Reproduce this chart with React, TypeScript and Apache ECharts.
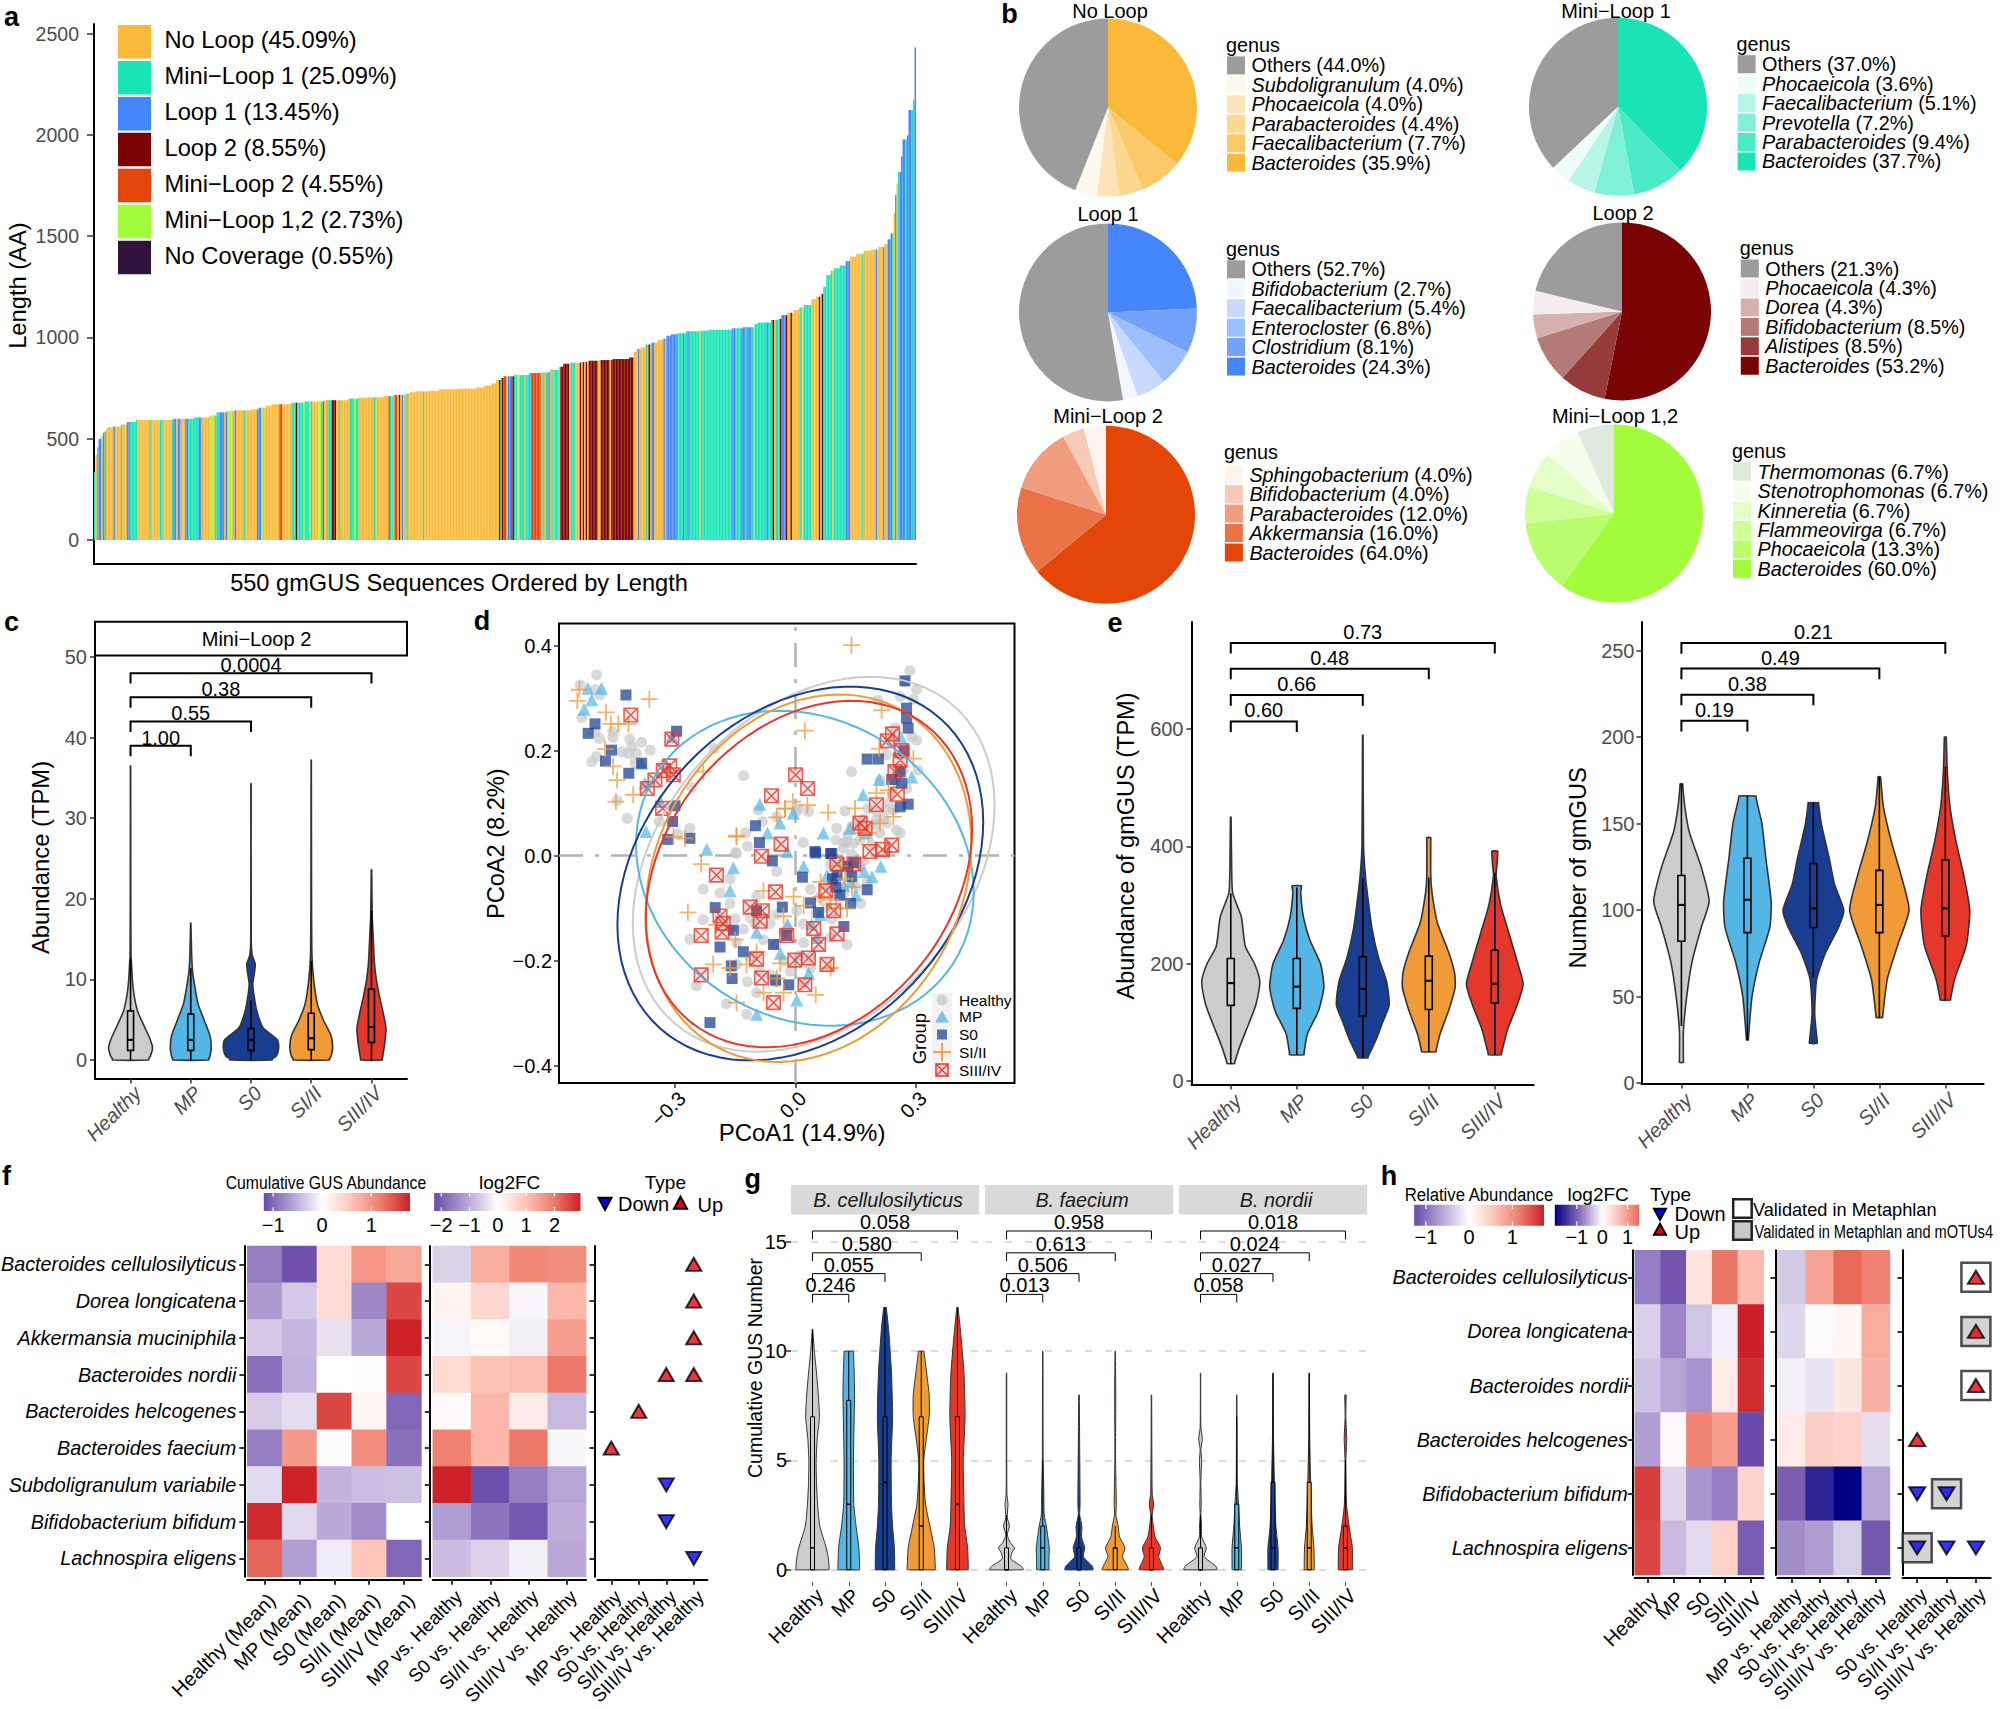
import React, { useEffect, useRef } from "react";
import * as echarts from "echarts";

const FONT = "Liberation Sans";
const MINUS = "\u2212";
const GROUPS = ["Healthy", "MP", "S0", "SI/II", "SIII/IV"];
const GROUP_COLORS = ["#CCCCCB", "#54B6E6", "#193D91", "#F19A38", "#E6382A"];

/* ---------- panel a ---------- */
const loopNames = ["No Loop (45.09%)", `Mini${MINUS}Loop 1 (25.09%)`, "Loop 1 (13.45%)", "Loop 2 (8.55%)", `Mini${MINUS}Loop 2 (4.55%)`, `Mini${MINUS}Loop 1,2 (2.73%)`, "No Coverage (0.55%)"];
const loopColors = ["#FABA39", "#1AE4B6", "#4686FB", "#7A0403", "#E4460A", "#A2FC3C", "#30123B"];
// [bar count, length in AA], read left to right
const seqLengthRuns = [[1,335],[1,420],[1,457],[2,500],[1,513],[1,530],[1,535],[1,550],[4,557],[5,560],[4,570],[6,582],[25,592],[14,598],[10,605],[5,615],[7,630],[5,637],[11,640],[5,645],[5,653],[4,663],[13,670],[9,678],[13,684],[16,690],[7,698],[6,702],
[11,704],[7,711],[7,716],[3,722],[4,729],[9,734],[7,737],[12,744],[13,747],[5,753],[5,762],[3,773],[3,790],[2,800],[7,808],[10,814],[9,824],[5,828],[6,840],[3,855],[5,870],[7,875],[5,878],[7,885],[9,888],[11,893],[3,901],[2,929],[3,943],
[3,951],[4,965],[4,974],[4,987],[2,995],[3,1008],[4,1015],[6,1020],[9,1030],[6,1033],[16,1038],[7,1045],[8,1050],[2,1066],[9,1073],[5,1086],[2,1092],[4,1110],[4,1122],[4,1135],[3,1148],[5,1160],[3,1188],[3,1201],[2,1215],[2,1250],[3,1308],[2,1329],[4,1341],[4,1355],[3,1377],[4,1398],[5,1413],[5,1428],[5,1434],[4,1446],[2,1461],[2,1485],[2,1513],[1,1615],[1,1703],[1,1760],[2,1816],[1,1892],[3,1977],[1,1997],[3,2122],[1,2171],[1,2431]];
// [bar count, loop class], read left to right
const seqClassRuns = [[1,1],[1,0],[1,1],[2,2],[1,0],[1,2],[1,1],[5,0],[1,2],[4,0],[1,1],[3,0],[2,2],[5,1],[8,0],[1,1],[6,0],[2,1],[6,0],[1,1],[2,2],[1,0],[2,2],[3,0],[2,2],[7,1],[2,2],[6,0],[2,5],[1,0],[3,1],[3,2],[1,0],[1,2],[1,0],[2,5],[2,0],[1,2],[5,0],[1,1],[8,0],[3,2],[1,5],[11,0],[2,4],[6,0],[3,1],[1,3],[4,1],[1,5],[3,1],[1,5],[1,1],[4,0],[2,5],[1,1],[1,4],[2,0],[3,1],[3,3],[2,0],[1,1],[6,0],[3,1],[1,5],[2,1],[6,0],
[4,0],[1,1],[9,0],[1,4],[2,1],[1,0],[2,4],[1,0],[1,3],[1,0],[1,2],[2,0],[1,1],[10,0],[1,1],[50,0],[1,3],[1,1],[1,3],[2,4],[1,0],[2,2],[1,4],[1,3],[2,1],[1,5],[1,0],[3,1],[1,0],[3,1],[1,2],[6,4],[1,0],[1,1],[1,0],[2,1],[1,2],[1,0],[1,1],[1,0],[3,1],[1,0],[6,3],[1,0],[3,1],[3,0],[1,3],[1,0],[1,3],[1,0],[1,3],[1,0],[6,3],[2,0],[6,3],[1,0],[15,3],[3,0],[1,2],[1,0],
[3,0],[1,1],[1,0],[1,3],[1,0],[2,2],[6,0],[1,2],[1,0],[7,2],[4,1],[1,2],[2,1],[1,2],[7,1],[1,0],[21,1],[2,2],[4,1],[3,2],[1,1],[3,2],[1,1],[1,0],[8,1],[1,2],[3,1],[1,3],[1,0],[3,1],[1,3],[3,2],[1,3],[2,0],[1,3],[5,0],[1,1],[2,0],[5,1],[5,0],[1,3],[1,0],[1,6],[2,1],[4,1],[1,0],[8,1],[3,2],[8,0],[1,1],[8,0],[1,2],[4,0],[1,2],[2,0],[3,2],[1,1],[1,0],[1,2],[1,0],[1,1],[4,2],[1,1],[3,2],[1,1],[1,1],[1,2]];

const expandRuns = (runs: number[][]) => runs.flatMap(([n, v]) => Array(n).fill(v));
const seqLengths = expandRuns(seqLengthRuns);
const seqClasses = expandRuns(seqClassRuns);

/* ---------- panel b ---------- */
const pieTitles = ["No Loop", `Mini${MINUS}Loop 1`, "Loop 1", "Loop 2", `Mini${MINUS}Loop 2`, `Mini${MINUS}Loop 1,2`];
const pieNames = [
  ["Others", "Subdoligranulum", "Phocaeicola", "Parabacteroides", "Faecalibacterium", "Bacteroides"],
  ["Others", "Phocaeicola", "Faecalibacterium", "Prevotella", "Parabacteroides", "Bacteroides"],
  ["Others", "Bifidobacterium", "Faecalibacterium", "Enterocloster", "Clostridium", "Bacteroides"],
  ["Others", "Phocaeicola", "Dorea", "Bifidobacterium", "Alistipes", "Bacteroides"],
  ["Sphingobacterium", "Bifidobacterium", "Parabacteroides", "Akkermansia", "Bacteroides"],
  ["Thermomonas", "Stenotrophomonas", "Kinneretia", "Flammeovirga", "Phocaeicola", "Bacteroides"],
];
const pieValues = [
  [44.0, 4.0, 4.0, 4.4, 7.7, 35.9],
  [37.0, 3.6, 5.1, 7.2, 9.4, 37.7],
  [52.7, 2.7, 5.4, 6.8, 8.1, 24.3],
  [21.3, 4.3, 4.3, 8.5, 8.5, 53.2],
  [4.0, 4.0, 12.0, 16.0, 64.0],
  [6.7, 6.7, 6.7, 6.7, 13.3, 60.0],
];
const pieColors = [
  ["#9C9C9C", "#FFF8EE", "#FDE3B8", "#FCD78F", "#FBC96A", "#FABA39"],
  ["#9C9C9C", "#EEFDFA", "#B6F6E6", "#80F1D6", "#4BEBC6", "#1AE4B6"],
  ["#9C9C9C", "#F1F6FF", "#C7DAFE", "#9DBFFD", "#72A2FC", "#4686FB"],
  ["#9C9C9C", "#F4EDED", "#D4B0AF", "#B37A78", "#953B3A", "#7A0403"],
  ["#FEF4EF", "#F7CAB8", "#F09E7E", "#EA7247", "#E4460A"],
  ["#E0E9E0", "#F6FFEE", "#E3FEC6", "#CEFE98", "#B9FD6E", "#A2FC3C"],
];

/* ---------- panel c ---------- */
const cViolins = [
  [[0,.30],[.5,.33],[1.5,.365],[2.5,.33],[4,.24],[6,.12],[8,.06],[10,.03],[12,.015],[13,.008],[20,.004],[36.5,.002]],
  [[0,.30],[.5,.32],[1.5,.34],[3,.32],[5,.22],[7,.12],[9,.07],[11,.03],[13,.015],[17,.003]],
  [[0,.35],[.5,.42],[1.5,.46],[2.5,.44],[4,.2],[6,.10],[8,.05],[9.5,.03],[10.5,.05],[11.9,.07],[13,.02],[15,.004],[34.3,.002]],
  [[0,.30],[.5,.33],[1.5,.355],[3,.33],[5,.2],[7,.1],[10,.04],[13,.012],[20,.005],[37.2,.002]],
  [[0,.18],[2,.22],[4,.24],[6,.19],[8,.13],[10,.08],[12,.05],[15,.03],[18,.012],[23.6,.004]],
];
const cBoxes = [[1.2,2.5,6.1,0,12.5],[1.2,2.5,5.7,0,11.4],[1.2,2.5,3.9,0,7.4],[1.3,2.7,5.8,0,12.3],[2.2,4.1,8.8,0,18.5]];
const cBrackets = [[0,1,39,"1.00"],[0,2,42,"0.55"],[0,3,45,"0.38"],[0,4,48,"0.0004"]];

/* ---------- panel d ---------- */
const pcoaHealthy = [[-.536,.325],[-.495,.344],[-.499,.316],[-.487,.306],[-.532,.263],[-.499,.236],[-.488,.223],[-.455,.236],[-.454,.225],[-.412,.222],[-.383,.216],[-.362,.201],[-.408,.208],[-.433,.198],[-.416,.194],[-.396,.195],[-.507,.179],[-.495,.189],[-.4,.177],[-.203,.204],[-.329,.173],[-.259,.13],[-.129,.152],[-.444,.105],[-.419,.071],[-.339,.065],[-.263,.052],[-.292,.041],[-.124,.044],[-.12,.018],[-.149,.006],[-.093,.087],[-.082,.065],[.002,.084],[-.047,.074],
[.284,.352],[.272,.331],[.301,.317],[.26,.303],[.293,.298],[.204,.296],[.247,.243],[.301,.22],[.289,.227],[.226,.192],[.139,.16],[.305,.163],[.268,.163],[.276,.128],[.21,.144],[.123,.085],[.032,.084],[.007,.09],[.102,.052],[.139,.055],[.019,.025],[.201,.084],[.226,.087],[.243,.087],[.201,.068],[.226,.062],[.21,.043],[.251,.049],[.26,.043],[.127,.027],[.119,.014],[.143,.023],[.226,.004],
[.12,.024],[.087,-.016],[.137,-.03],[.17,-.01],[.103,-.037],[.178,-.05],[.162,-.091],[.12,-.071],[.037,-.064],[.003,-.105],[.078,-.098],[-.047,-.112],[-.097,-.078],[-.047,-.03],[-.147,.004],[-.163,-.044],[-.23,-.064],[-.188,-.071],[-.163,-.091],[-.23,-.122],[-.263,-.159],[-.163,-.139],[-.113,-.118],[-.063,-.129],[-.03,-.146],[-.147,-.166],[-.113,-.193],[.02,-.166],[.128,-.169],[.087,-.156],[.037,-.193],[-.063,-.227],[-.013,-.22],[.037,-.214],[-.247,-.248],[-.172,-.282],[-.122,-.302],[-.097,-.261],[-.147,-.207],[.02,-.241],[-.047,-.241],
[.1,.03],[.13,.04],[.15,.06],[.16,.03],[.18,.05],[.19,.02],[.14,.002],[.11,-.01],[.16,-.02],[.13,-.02],[.1,-.05],[.15,-.06],[.08,-.06],[.06,-.08],[.11,-.08],[.05,-.11],[.09,-.12],[.02,-.13],[-.02,-.14],[-.05,-.17],[-.08,-.16],[-.1,-.13],[-.13,-.14],[-.15,-.12],[-.03,-.2],[.01,-.19],[-.09,-.22],[-.12,-.24],[.23,.1],[.24,.12],[.25,.14],[.22,.07],[.2,.06],[.18,.09],[.17,.07]];
const pcoaMP = [[-.517,.319],[-.483,.319],[-.507,.297],[-.526,.279],[-.383,.176],[-.375,.138],[-.337,.103],[-.372,.046],[-.221,.012],[-.089,.098],[-.07,.043],[-.039,.062],[-.006,.081],[-.021,.008],[-.308,.227],[.261,.227],[.208,.145],[.168,.116],[.289,.15],[.069,.043],[.135,.052],[.177,.043],[.02,-.02],[-.155,-.023],[-.163,-.067],[.212,-.02],[.17,-.03],[-.097,-.146],[.053,-.156],[-.038,-.186],[.033,-.224],[.003,-.275],[-.097,-.302],[.062,-.112],[.137,-.05],[.078,-.037],[.12,-.057],[.19,-.04],[.15,-.075],[.04,-.13],[-.02,-.13]];
const pcoaS0 = [[-.422,.306],[-.499,.251],[-.516,.233],[-.458,.201],[-.473,.18],[-.415,.157],[-.383,.176],[-.296,.237],[-.3,.095],[-.306,.065],[-.318,.031],[-.263,.033],[-.1,.057],[-.09,.025],[-.058,-.01],[.272,.333],[.276,.281],[.276,.262],[.28,.243],[.178,.184],[.206,.184],[.239,.145],[.264,.138],[.28,.098],[.26,.093],[.048,.008],[.09,.004],[.05,.005],[.087,.004],[.017,-.041],[.092,-.044],[.145,-.013],[.178,-.065],[.037,-.09],[.057,-.108],[.137,-.091],[-.2,-.099],[-.097,-.105],[-.033,-.098],[-.155,-.142],[-.022,-.152],[-.055,-.169],[-.188,-.174],[-.13,-.183],[-.16,-.21],[-.158,-.234],[-.05,-.237],[-.017,-.246],[-.213,-.318],[.12,-.135],[.103,-.037],[.13,-.02],[.14,-.04],[.1,-.06],[.11,-.075],[.27,.2],[.26,.16]];
const pcoaSI = [[-.538,.316],[-.543,.295],[-.472,.273],[-.46,.251],[-.441,.251],[-.416,.251],[-.364,.298],[-.474,.203],[-.454,.17],[-.444,.144],[-.404,.116],[-.447,.103],[-.23,.16],[-.304,.036],[-.275,.033],[-.147,.036],[-.027,.089],[-.047,.073],[.139,.401],[.023,.238],[.214,.277],[.208,.204],[.293,.185],[.201,.119],[.231,.125],[.148,.09],[.081,.082],[.029,.096],[-.007,.103],[-.026,.09],[.243,.074],[.181,.043],[.16,.043],[.21,.062],[-.235,-.016],[-.268,-.108],[-.147,.038],[.062,-.05],[.123,-.044],[.062,-.078],[-.08,-.067],[-.005,-.078],[.128,-.101],[.087,-.084],[.02,-.095],[-.197,-.132],[-.097,-.183],[-.205,-.207],[-.163,-.214],[-.122,-.207],[-.038,-.205],[-.147,-.28],[-.08,-.261],[-.03,-.261],[.05,-.265],[.087,-.214],[-.047,-.234],[.11,-.02],[.14,-.06],[.1,-.1],[-.03,-.115],[-.15,-.16]];
const pcoaSIII = [[-.41,.268],[-.308,.222],[-.313,.171],[-.329,.162],[-.304,.154],[-.35,.144],[-.369,.128],[-.331,.09],[-.06,.114],[-.036,.022],[-.085,-.001],[0,.154],[.241,.232],[.228,.219],[.264,.2],[.26,.182],[.247,.16],[.03,.128],[.253,.117],[.201,.097],[.16,.062],[.173,.052],[.239,.02],[.216,.012],[.185,.008],[-.197,-.037],[-.05,-.069],[.075,-.067],[.145,-.016],[.103,-.016],[.095,-.105],[-.188,-.115],[-.113,-.098],[-.083,-.105],[-.18,-.129],[-.183,-.146],[-.235,-.152],[-.088,-.125],[-.022,-.152],[.045,-.139],[.103,-.149],[.057,-.169],[-.002,-.199],[.032,-.195],[.078,-.207],[-.097,-.197],[-.235,-.227],[-.085,-.233],[.023,-.246],[-.055,-.28]];
// centre x, centre y, half width, half height, tilt
const pcoaEllipses = [[.045,-.0163,.45,.357,.315],[.023,-.024,.42,.30,-.15],[.0117,-.034,.455,.356,.275],[.032,-.043,.405,.35,.19],[.033,-.035,.406,.33,.26]];

/* ---------- panel e ---------- */
const eAbundViolins = [
  [[30,.06],[60,.14],[100,.28],[130,.38],[170,.44],[200,.36],[230,.22],[280,.16],[320,.03],[350,.015],[450,.005]],
  [[45,.11],[80,.16],[120,.33],[160,.41],[200,.36],[240,.2],[280,.1],[320,.06],[333,.07]],
  [[40,.08],[70,.2],[100,.3],[130,.40],[170,.36],[210,.24],[260,.14],[310,.08],[350,.04],[400,.012],[590,.004]],
  [[50,.11],[80,.17],[120,.3],[160,.40],[185,.39],[220,.3],[270,.13],[320,.05],[350,.03],[415,.03]],
  [[45,.1],[65,.14],[90,.2],[130,.34],[165,.43],[200,.35],[250,.22],[300,.09],[350,.02],[370,.035],[392,.045]],
];
const eAbundBoxes = [[129,167,209,30,320],[124,161,209,45,330],[111,157,212,40,345],[122,171,213,50,347],[133,166,223,45,355]];
const eAbundBrackets = [[0,1,613,"0.60"],[0,2,658,"0.66"],[0,3,703,"0.48"],[0,4,747,"0.73"]];
const eNumberViolins = [
  [[12,.03],[30,.03],[50,.08],[70,.16],[90,.30],[105,.42],[125,.3],[145,.12],[160,.05],[173,.02]],
  [[25,.015],[50,.07],[70,.18],[90,.34],[105,.36],[130,.28],[150,.22],[160,.16],[166,.13]],
  [[23,.06],[40,.02],[60,.05],[75,.18],[90,.38],[100,.46],[115,.32],[130,.24],[150,.12],[162,.08]],
  [[38,.05],[60,.12],[80,.28],[100,.45],[120,.33],[140,.18],[160,.06],[177,.02]],
  [[48,.08],[60,.14],[80,.32],[100,.37],[120,.28],[140,.16],[160,.07],[180,.03],[200,.015]],
];
const eNumberBoxes = [[82,103,120,33,173],[87,106,130,25,166],[90,101,127,61,162],[87,103,123,38,177],[85,101,129,48,183]];
const eNumberBrackets = [[0,1,209.5,"0.19"],[0,2,224.6,"0.38"],[0,3,239.7,"0.49"],[0,4,254.5,"0.21"]];

/* ---------- panel f ---------- */
const fSpecies = ["Bacteroides cellulosilyticus","Dorea longicatena","Akkermansia muciniphila","Bacteroides nordii","Bacteroides helcogenes","Bacteroides faecium","Subdoligranulum variabile","Bifidobacterium bifidum","Lachnospira eligens"];
const fMeanCols = ["Healthy (Mean)","MP (Mean)","S0 (Mean)","SI/II (Mean)","SIII/IV (Mean)"];
const vsCols = ["MP vs. Healthy","S0 vs. Healthy","SI/II vs. Healthy","SIII/IV vs. Healthy"];
const fMeans = [
  [-.85,-1.15,.35,1.0,.85],[-.65,-.35,.35,-.78,1.55],[-.35,-.48,-.2,-.55,1.78],[-.95,-.5,0,.03,1.55],[-.33,-.22,1.55,.08,-1],
  [-.85,.95,-.02,1.05,-.95],[-.23,1.78,-.5,-.42,-.4],[1.72,-.24,-.55,-.75,0],[1.35,-.63,-.12,.6,-1],
];
const fLog2 = [
  [-.55,1.3,1.8,1.7],[.2,.65,-.1,1.15],[-.12,.1,-.2,1.5],[.6,1.0,1.05,2.0],[.08,1.15,.35,-.85],
  [1.9,1.15,2.0,-.1],[2.9,-2.2,-1.6,-1.1],[-1.2,-1.7,-2.1,-1],[-.8,-.55,-.2,-1.05],
];
// [column, row, 1 = up / 0 = down]
const fMarks = [[3,0,1],[3,1,1],[3,2,1],[2,3,1],[3,3,1],[1,4,1],[0,5,1],[2,6,0],[2,7,0],[3,8,0]];

/* ---------- panel g ---------- */
const gTitles = ["B. cellulosilyticus","B. faecium","B. nordii"];
const gViolins = [
  [
    [[0,.46],[.5,.44],[1,.38],[2,.2],[3,.14],[4,.11],[5,.1],[6,.13],[7,.19],[8,.16],[9,.11],[10,.05],[11,.01]],
    [[0,.30],[1,.28],[2,.2],[3,.14],[5,.13],[7,.15],[8,.16],[9,.15],[10,.13]],
    [[0,.27],[1,.26],[2,.21],[3,.18],[5,.17],[7,.21],[9,.18],[11,.1],[12,.04]],
    [[0,.39],[1,.36],[2,.24],[3,.12],[4,.08],[5,.07],[6,.14],[7,.22],[8,.22],[9,.15],[10,.08]],
    [[0,.30],[1,.28],[2,.2],[3,.18],[5,.16],[7,.21],[9,.18],[11,.08],[12,.02]],
  ],
  [
    [[0,.46],[.15,.42],[.5,.12],[.75,.14],[1,.22],[1.25,.1],[1.6,.02],[2,.08],[2.4,.02],[3,.04],[3.5,.01],[9,.006]],
    [[0,.17],[.5,.17],[1,.18],[1.5,.14],[2,.1],[2.5,.04],[3.5,.03],[5,.012],[10,.006]],
    [[0,.39],[.2,.35],[.6,.12],[1,.16],[1.5,.07],[2,.08],[2.5,.02],[3,.03],[8,.008]],
    [[0,.36],[.2,.32],[.6,.2],[1,.27],[1.5,.12],[2,.08],[2.5,.02],[3,.03],[5,.01],[8,.015],[10,.006]],
    [[0,.34],[.2,.3],[.6,.2],[1,.25],[1.5,.1],[2,.05],[2.5,.02],[3,.06],[3.5,.02],[8,.006]],
  ],
  [
    [[0,.46],[.2,.4],[.6,.1],[1,.16],[1.5,.03],[2,.03],[2.5,.01],[3,.02],[4,.01],[5,.03],[5.5,.01],[6,.05],[6.5,.01],[9,.005]],
    [[0,.13],[1,.13],[2,.08],[3,.05],[4,.015],[8,.005]],
    [[0,.14],[1,.14],[2,.08],[4,.04],[6,.015],[9,.005]],
    [[0,.14],[1,.13],[2,.08],[4,.04],[6,.015],[9,.006]],
    [[0,.2],[1,.19],[2,.1],[3,.03],[5,.012],[6,.035],[7,.01],[8,.02]],
  ],
];
const gBoxes = [
  [[0,1,7,0,11],[0,3,7.75,0,10],[0,4,7,0,12],[0,2,7,0,10],[0,3,7,0,12]],
  [[0,0,1,0,2.5],[0,1,2,0,5],[0,0,1,0,2.5],[0,1,1,0,2],[0,0,1,0,2.5]],
  [[0,0,1,0,2.5],[0,1,3,0,7],[0,1,4,0,9],[0,1,4,0,9],[0,1,2,0,5]],
];
const gBrackets = [
  [[0,1,12.6,"0.246"],[0,2,13.55,"0.055"],[0,3,14.5,"0.580"],[0,4,15.5,"0.058"]],
  [[0,1,12.6,"0.013"],[0,2,13.55,"0.506"],[0,3,14.5,"0.613"],[0,4,15.5,"0.958"]],
  [[0,1,12.6,"0.058"],[0,2,13.55,"0.027"],[0,3,14.5,"0.024"],[0,4,15.5,"0.018"]],
];

/* ---------- panel h ---------- */
const hSpecies = ["Bacteroides cellulosilyticus","Dorea longicatena","Bacteroides nordii","Bacteroides helcogenes","Bifidobacterium bifidum","Lachnospira eligens"];
const hVsCols3 = ["S0 vs. Healthy","SI/II vs. Healthy","SIII/IV vs. Healthy"];
const hMeans = [
  [-.9,-1.2,.25,1.2,.65],[-.33,-.85,-.4,-.12,1.73],[-.42,-.63,-.75,.2,1.65],[-.68,.05,1.1,.9,-1.27],[1.55,-.28,-.72,-.9,.42],[1.5,-.47,-.25,.45,-1.15],
];
const hLog2 = [
  [-.33,.95,1.46,1.25],[-.25,0,.08,.85],[-.1,-.17,.25,.8],[.22,.5,.48,-.2],[-1,-1.55,-1.87,-.55],[-.7,-.6,-.3,-1.05],
];
const hMarks = [[2,0,1],[2,1,1],[2,2,1],[0,3,1],[0,4,0],[1,4,0],[0,5,0],[1,5,0],[2,5,0]];
// [column, row, 1 = grey box / 0 = white box]
const hValidated = [[2,0,0],[2,1,1],[2,2,0],[1,4,1],[0,5,1]];

/* ---------- helpers ---------- */
const hexToRgb = (h: string) => [1, 3, 5].map((i) => parseInt(h.slice(i, i + 2), 16));
const mixStops = (stops: string[], t: number) => {
  const p = Math.min(Math.max(t, 0), 1) * (stops.length - 1);
  const i = Math.min(Math.floor(p), stops.length - 2);
  const f = p - i;
  const a = hexToRgb(stops[i]);
  const b = hexToRgb(stops[i + 1]);
  return `rgb(${a.map((c, k) => Math.round(c + (b[k] - c) * f)).join(",")})`;
};
const rampColors = (lo: number, hi: number, neg: string[], pos: string[], n = 41) => {
  const out: string[] = [];
  for (let i = 0; i < n; i++) {
    const v = lo + ((hi - lo) * i) / (n - 1);
    out.push(v < 0 ? mixStops(neg, v / lo) : mixStops(pos, v / hi));
  }
  return out;
};
const NEG = ["#FFFFFF", "#B5A3D4", "#6A4BAA"];
const POS = ["#FFFFFF", "#FDC4B8", "#EE7E6C", "#CB2027"];
const NEG2 = ["#FFFFFF", "#8366B5", "#000080"];
const POS2 = ["#FFFFFF", "#FBB9AC", "#E96A59"];

const grids: any[] = [];
const xAxes: any[] = [];
const yAxes: any[] = [];
const series: any[] = [];
const visualMaps: any[] = [];
const gfx: any[] = [];

const addGrid = (r: number[], x: any, y: any, extra: any = {}) => {
  const i = grids.length;
  grids.push({ left: r[0], top: r[1], width: r[2] - r[0], height: r[3] - r[1], containLabel: false, outerBoundsMode: "none", ...extra });
  xAxes.push({ gridIndex: i, ...x });
  yAxes.push({ gridIndex: i, ...y });
  return i;
};

const txt = (x: number, y: number, text: string, size: number, o: any = {}) => ({
  type: "text", x, y, rotation: o.rot || 0, scaleX: o.sx || 1, silent: true, z: 60,
  style: {
    text, fontSize: size, fontFamily: FONT, fontStyle: o.style || "normal", fontWeight: o.weight || "normal",
    fill: o.fill || "#000", align: o.align || "center", verticalAlign: "middle", rich: o.rich,
  },
});
const box = (x0: number, y0: number, x1: number, y1: number, fill: string, stroke?: string, lw = 0, z = 55) => ({
  type: "rect", silent: true, z, shape: { x: x0, y: y0, width: x1 - x0, height: y1 - y0 },
  style: { fill, stroke: stroke || "none", lineWidth: lw },
});
const tri = (cx: number, cy: number, w: number, h: number, up: boolean) => ({
  type: "polygon", silent: true, z: 60,
  shape: { points: up ? [[cx - w / 2, cy + h / 2], [cx + w / 2, cy + h / 2], [cx, cy - h / 2]] : [[cx - w / 2, cy - h / 2], [cx + w / 2, cy - h / 2], [cx, cy + h / 2]] },
  style: { fill: up ? "#E8000D" : "#0000FF", stroke: "#000", lineWidth: 2 },
});

const valueLine = { show: true, onZero: false, lineStyle: { color: "#000", width: 2 } };
const groupAxis = (min: number, max: number, o: any = {}) => ({
  type: "value", min, max,
  axisLine: o.noLine ? { show: false, onZero: false } : valueLine,
  axisTick: { show: true, customValues: [0, 1, 2, 3, 4], length: o.tickLen || 5, lineStyle: { color: o.tickColor || "#333", width: o.tickW || 1.5 } },
  axisLabel: {
    show: true, customValues: [0, 1, 2, 3, 4], formatter: (v: number) => GROUPS[Math.round(v)], rotate: 45, fontSize: 20,
    fontStyle: o.italic === false ? "normal" : "italic", color: o.color || "#4D4D4D", margin: o.margin ?? 4, hideOverlap: false,
    fontFamily: FONT, align: "right", verticalAlign: "top",
  },
  splitLine: { show: false },
});
const numAxis = (min: number, max: number, ticks: number[], o: any = {}) => ({
  type: "value", min, max,
  axisLine: o.noLine ? { show: false, onZero: false } : valueLine,
  axisTick: { show: !o.noTick, customValues: ticks, length: o.tickLen || 5, lineStyle: { color: "#333", width: 1.5 } },
  axisLabel: {
    show: !o.noLabel, customValues: ticks, fontSize: o.size || 20, color: o.color || "#4D4D4D", margin: o.margin ?? 8, hideOverlap: false, fontFamily: FONT,
    formatter: o.formatter || ((v: number) => String(v)),
  },
  splitLine: { show: false },
});

const addViolins = (grid: number, profiles: number[][][], boxes: number[][], boxW: number, lw: number, markLine?: any) => {
  series.push({
    type: "custom", xAxisIndex: grid, yAxisIndex: grid, silent: true, clip: false, z: 3,
    data: profiles.map((_, i) => [i, boxes[i][1]]),
    markLine,
    renderItem: (_p: any, api: any) => {
      const i = api.value(0);
      const unit = api.size([1, 0])[0];
      const prof = profiles[i];
      const cx = api.coord([i, 0])[0];
      const side = (sign: number) => {
        const pts = prof.map(([y, w]) => [cx + sign * w * unit, api.coord([i, y])[1]]);
        // a very short vertical step keeps the flat base and top corners sharp under smoothing
        const first = pts[0];
        const last = pts[pts.length - 1];
        return [first, [first[0], first[1] - 1.2], ...pts.slice(1, -1), [last[0], last[1] + 1.2], last];
      };
      const [q1, med, q3, lo, hi] = boxes[i];
      const py = (v: number) => api.coord([i, v])[1];
      return {
        type: "group",
        children: [
          { type: "polygon", shape: { points: [...side(1), ...side(-1).reverse()], smooth: 0.2 }, style: { fill: GROUP_COLORS[i], stroke: "#333", lineWidth: lw } },
          { type: "line", shape: { x1: cx, y1: py(lo), x2: cx, y2: py(hi) }, style: { stroke: "#000", lineWidth: lw } },
          { type: "rect", shape: { x: cx - boxW / 2, y: py(q3), width: boxW, height: py(q1) - py(q3) }, style: { fill: GROUP_COLORS[i], stroke: "#000", lineWidth: lw } },
          { type: "line", shape: { x1: cx - boxW / 2, y1: py(med), x2: cx + boxW / 2, y2: py(med) }, style: { stroke: "#000", lineWidth: lw + 0.5 } },
        ],
      };
    },
  });
};
const addBrackets = (grid: number, rows: any[][], tip: number, lw: number, labelDy: number) => {
  series.push({
    type: "custom", xAxisIndex: grid, yAxisIndex: grid, silent: true, clip: false, z: 5,
    data: rows.map((r) => [r[0], r[1], r[2]]),
    renderItem: (p: any, api: any) => {
      const a = api.coord([api.value(0), api.value(2)]);
      const b = api.coord([api.value(1), api.value(2)]);
      const ta = api.coord([api.value(0), api.value(2) - tip]);
      const label = rows[p.dataIndex][3];
      return {
        type: "group",
        children: [
          { type: "polyline", shape: { points: [[a[0], ta[1]], a, b, [b[0], ta[1]]] }, style: { stroke: "#000", fill: "none", lineWidth: lw } },
          { type: "text", x: (a[0] + b[0]) / 2, y: a[1] - 1 + labelDy, style: { text: label, fontSize: 20, fontFamily: FONT, fill: "#000", align: "center", verticalAlign: "bottom" } },
        ],
      };
    },
  });
};

const heatAxisX = (labels: string[], size = 20, margin = 10) => ({
  type: "category", data: labels, offset: 3,
  axisLine: { show: true, onZero: false, lineStyle: { color: "#000", width: 2 } },
  axisTick: { show: true, alignWithLabel: true, length: 5, lineStyle: { color: "#333", width: 2 } },
  axisLabel: { show: true, interval: 0, rotate: 45, fontSize: size, color: "#000", margin, fontFamily: FONT, hideOverlap: false, align: "right", verticalAlign: "top" },
  splitLine: { show: false }, splitArea: { show: false },
});
const heatAxisY = (labels: string[], show: boolean, off = 3, margin = 8) => ({
  type: "category", data: labels, inverse: true, offset: off,
  axisLine: { show: true, onZero: false, lineStyle: { color: "#000", width: 2 } },
  axisTick: { show: true, alignWithLabel: true, length: 5, lineStyle: { color: "#333", width: 2 } },
  axisLabel: { show, interval: 0, fontSize: 19.8, fontStyle: "italic", color: "#000", margin, fontFamily: FONT, hideOverlap: false },
  splitLine: { show: false }, splitArea: { show: false },
});
const addHeat = (grid: number, rows: number[][], lo: number, hi: number, neg: string[], pos: string[]) => {
  const idx = series.length;
  series.push({
    type: "heatmap", xAxisIndex: grid, yAxisIndex: grid, silent: true, itemStyle: { borderWidth: 0 }, emphasis: { disabled: true },
    progressive: 0, data: rows.flatMap((r, j) => r.map((v, i) => [i, j, v])),
  });
  visualMaps.push({ show: false, type: "continuous", seriesIndex: idx, dimension: 2, min: lo, max: hi, inRange: { color: rampColors(lo, hi, neg, pos) } });
};
const addMarks = (grid: number, marks: number[][], w: number, h: number) => {
  series.push({
    type: "scatter", xAxisIndex: grid, yAxisIndex: grid, silent: true, z: 6, symbol: "triangle", symbolSize: [w, h],
    data: marks.map((m) => ({
      value: [m[0], m[1]], symbolRotate: m[2] ? 0 : 180,
      itemStyle: { color: m[2] ? "#E8000D" : "#0000FF", borderColor: "#000", borderWidth: 2 },
    })),
  });
};
const colorbar = (x0: number, x1: number, y0: number, y1: number, lo: number, hi: number, neg: string[], pos: string[], ticks: number[], labelY: number) => {
  const cols = rampColors(lo, hi, neg, pos);
  gfx.push({
    type: "rect", silent: true, z: 55, shape: { x: x0, y: y0, width: x1 - x0, height: y1 - y0 },
    style: { fill: { type: "linear", x: 0, y: 0, x2: 1, y2: 0, colorStops: cols.map((c, i) => ({ offset: i / (cols.length - 1), color: c })) } },
  });
  ticks.forEach((t) => {
    const x = x0 + ((t - lo) / (hi - lo)) * (x1 - x0);
    const d = (y1 - y0) / 5;
    gfx.push({ type: "line", silent: true, z: 56, shape: { x1: x, y1: y0, x2: x, y2: y0 + d }, style: { stroke: "#fff", lineWidth: 1.2 } });
    gfx.push({ type: "line", silent: true, z: 56, shape: { x1: x, y1: y1 - d, x2: x, y2: y1 }, style: { stroke: "#fff", lineWidth: 1.2 } });
    gfx.push(txt(x, labelY, String(t).replace("-", MINUS), 20));
  });
};

/* ---------- panel letters ---------- */
([["a", 11.5, 17], ["b", 1009.6, 13.6], ["c", 11.4, 622], ["d", 482, 621], ["e", 1115, 623], ["f", 6.6, 1175.8], ["g", 752.8, 1179], ["h", 1389, 1175.8]] as any[]).forEach(([l, x, y]) =>
  gfx.push(txt(x, y, l, 27, { weight: "bold" })),
);

/* ---------- a ---------- */
{
  const g = addGrid([94, 24, 916, 564],
    { type: "category", data: seqLengths.map((_, i) => String(i + 1)), axisLine: { show: true, onZero: false, lineStyle: { color: "#000", width: 2 } }, axisTick: { show: false }, axisLabel: { show: false }, splitLine: { show: false } },
    numAxis(-118.5, 2547, [0, 500, 1000, 1500, 2000, 2500], { margin: 15, tickLen: 7, size: 19.5 }),
  );
  series.push({
    type: "bar", xAxisIndex: g, yAxisIndex: g, barCategoryGap: 0, barGap: 0, silent: true,
    data: seqLengths.map((v, i) => ({ value: v, itemStyle: { color: loopColors[seqClasses[i] ?? 0] } })),
  });
  loopNames.forEach((n, i) => {
    gfx.push(box(118, 25 + i * 35.95, 151, 58.5 + i * 35.95, loopColors[i]));
    gfx.push(txt(164.5, 40.3 + i * 35.95, n, 23.7, { align: "left" }));
  });
  gfx.push(txt(18, 285.6, "Length (AA)", 23.7, { rot: Math.PI / 2 }));
  gfx.push(txt(459, 582.5, "550 gmGUS Sequences Ordered by Length", 23.6));
}

/* ---------- b ---------- */
{
  const cx = [1108, 1618, 1108, 1622, 1106, 1614];
  const cy = [107.6, 106.8, 312.4, 311.4, 514.7, 513.6];
  const tx = [1110, 1616, 1108, 1623, 1108, 1615];
  const ty = [11, 11, 213.6, 212.5, 416, 415.6];
  const gx = [1226, 1736.6, 1226, 1739.8, 1223.9, 1732];
  const gy = [45, 44, 249, 248.2, 451.8, 451];
  const firstRow = [65.4, 64.2, 269.3, 268.5, 474.7, 471.6];
  pieNames.forEach((names, p) => {
    series.push({
      type: "pie", center: [cx[p], cy[p]], radius: [0, 89], startAngle: 90, silent: true, label: { show: false }, labelLine: { show: false },
      data: names.map((n, i) => ({ name: n, value: pieValues[p][i], itemStyle: { color: pieColors[p][i] } })).reverse(),
    });
    gfx.push(txt(tx[p], ty[p], pieTitles[p], 20));
    gfx.push(txt(gx[p], gy[p], "genus", 19.8, { align: "left" }));
    names.forEach((n, i) => {
      const y = firstRow[p] + i * 19.45;
      gfx.push(box(gx[p] + 1, y - 9, gx[p] + 19, y + 9, pieColors[p][i]));
      const val = `(${pieValues[p][i].toFixed(1)}%)`;
      const rich = { i: { fontStyle: "italic", fontSize: 19.8, fontFamily: FONT, fill: "#000" }, n: { fontSize: 19.8, fontFamily: FONT, fill: "#000" } };
      gfx.push(txt(gx[p] + 25.5, y, n === "Others" ? `{n|${n} ${val}}` : `{i|${n}}{n| ${val}}`, 19.8, { align: "left", rich }));
    });
  });
}

/* ---------- c ---------- */
{
  const g = addGrid([95, 655.4, 407, 1078.6], groupAxis(-0.59, 4.59, { margin: 4 }), numAxis(-2.3, 50.2, [0, 10, 20, 30, 40, 50]));
  addViolins(g, cViolins, cBoxes, 6, 1.6);
  addBrackets(g, cBrackets, 1.3, 2, 3);
  gfx.push(box(95, 621.8, 407, 655.4, "#fff", "#000", 2));
  gfx.push(txt(256.5, 638.6, `Mini${MINUS}Loop 2`, 20));
  gfx.push(txt(40, 857.5, "Abundance (TPM)", 23.8, { rot: Math.PI / 2 }));
}

/* ---------- d ---------- */
{
  const fmt = (v: number) => v.toFixed(1).replace("-", MINUS);
  const xA = numAxis(-0.5886, 0.5445, [-0.3, 0, 0.3], { noLine: true, color: "#000", formatter: fmt, margin: 5 });
  xA.axisLabel = { ...xA.axisLabel, rotate: 45, align: "right", verticalAlign: "top" } as any;
  const g = addGrid([559, 623.6, 1014.5, 1082.9], xA, numAxis(-0.4328, 0.442, [-0.4, -0.2, 0, 0.2, 0.4], { noLine: true, color: "#000", formatter: fmt, margin: 7 }),
    { show: true, borderColor: "#000", borderWidth: 2, backgroundColor: "transparent" });
  const base = { type: "scatter", xAxisIndex: g, yAxisIndex: g, silent: true, z: 3 };
  series.push({
    ...base, data: pcoaHealthy, symbol: "circle", symbolSize: 11, itemStyle: { color: "#C9C9C9", opacity: 0.7 },
    markLine: {
      silent: true, symbol: "none", animation: false, label: { show: false }, z: 2,
      lineStyle: { color: "#B3B3B3", width: 2.5, type: [24, 12, 4, 12] },
      data: [{ xAxis: 0 }, { yAxis: 0 }],
    },
  });
  series.push({ ...base, data: pcoaMP, symbol: "triangle", symbolSize: 13, itemStyle: { color: "#54B6E6", opacity: 0.7 } });
  series.push({ ...base, data: pcoaS0, symbol: "rect", symbolSize: 11, itemStyle: { color: "#193D91", opacity: 0.72 } });
  series.push({ ...base, data: pcoaSI, symbol: "path://M5 0V10M0 5H10", symbolSize: 17, itemStyle: { color: "rgba(0,0,0,0)", borderColor: "#F19A38", borderWidth: 1.8, opacity: 0.75 } });
  series.push({ ...base, data: pcoaSIII, symbol: "path://M0 0H10V10H0ZM0 0L10 10M10 0L0 10", symbolSize: 13.5, itemStyle: { color: "rgba(230,56,42,0.12)", borderColor: "#E6382A", borderWidth: 1.6, opacity: 0.8 } });
  series.push({
    type: "custom", xAxisIndex: g, yAxisIndex: g, silent: true, z: 4, clip: true, data: pcoaEllipses,
    renderItem: (p: any, api: any) => {
      const [cx, cy, rx, ry, rho] = pcoaEllipses[p.dataIndex];
      const phi = Math.asin(rho);
      const pts = [];
      for (let k = 0; k < 90; k++) {
        const t = (k / 90) * Math.PI * 2;
        pts.push(api.coord([cx + rx * Math.cos(t), cy + ry * Math.sin(t + phi)]));
      }
      return { type: "polygon", shape: { points: pts }, style: { fill: "none", stroke: ["#CCCCCB", "#54B6E6", "#193D91", "#F19A38", "#E6382A"][p.dataIndex], lineWidth: 2 } };
    },
  });
  gfx.push(txt(802, 1132, "PCoA1 (14.9%)", 24));
  gfx.push(txt(495.6, 843.7, "PCoA2 (8.2%)", 23.6, { rot: Math.PI / 2 }));
  gfx.push(box(932, 993, 952, 1078, "#F2F2F2"));
  gfx.push(txt(919, 1038.6, "Group", 18.5, { rot: Math.PI / 2 }));
  const ly = [1000, 1016.5, 1034.5, 1052, 1070];
  GROUPS.forEach((n, i) => gfx.push(txt(959, ly[i], n, 15.5, { align: "left" })));
  gfx.push({ type: "circle", silent: true, z: 60, shape: { cx: 942, cy: ly[0], r: 5.5 }, style: { fill: "#C9C9C9", opacity: 0.8 } });
  gfx.push({ type: "polygon", silent: true, z: 60, shape: { points: [[935, ly[1] + 6], [949, ly[1] + 6], [942, ly[1] - 6]] }, style: { fill: "#54B6E6", opacity: 0.75 } });
  gfx.push(box(937, ly[2] - 5, 947, ly[2] + 5, "rgba(25,61,145,0.72)", undefined, 0, 60));
  gfx.push({ type: "polyline", silent: true, z: 60, shape: { points: [[933, ly[3]], [951, ly[3]]] }, style: { stroke: "#F19A38", lineWidth: 1.8, fill: "none" } });
  gfx.push({ type: "polyline", silent: true, z: 60, shape: { points: [[942, ly[3] - 9], [942, ly[3] + 9]] }, style: { stroke: "#F19A38", lineWidth: 1.8, fill: "none" } });
  gfx.push(box(936, ly[4] - 6, 948, ly[4] + 6, "rgba(230,56,42,0.12)", "#E6382A", 1.5, 60));
  gfx.push({ type: "polyline", silent: true, z: 60, shape: { points: [[936, ly[4] - 6], [948, ly[4] + 6]] }, style: { stroke: "#E6382A", lineWidth: 1.3, fill: "none" } });
  gfx.push({ type: "polyline", silent: true, z: 60, shape: { points: [[948, ly[4] - 6], [936, ly[4] + 6]] }, style: { stroke: "#E6382A", lineWidth: 1.3, fill: "none" } });
}

/* ---------- e ---------- */
{
  const g1 = addGrid([1191.5, 622, 1533.6, 1084.6], groupAxis(-0.595, 4.588, { margin: 6 }), numAxis(-6, 782.6, [0, 200, 400, 600]));
  addViolins(g1, eAbundViolins, eAbundBoxes, 7, 1.6);
  addBrackets(g1, eAbundBrackets, 18, 2, 0);
  gfx.push(txt(1125.8, 846, "Abundance of gmGUS (TPM)", 23.5, { rot: Math.PI / 2 }));
  const g2 = addGrid([1641.5, 622, 1983.6, 1083.6], groupAxis(-0.605, 4.58, { margin: 6 }), numAxis(-0.3, 266.6, [0, 50, 100, 150, 200, 250], { margin: 7 }));
  addViolins(g2, eNumberViolins, eNumberBoxes, 7, 1.6);
  addBrackets(g2, eNumberBrackets, 6.2, 2, 0);
  gfx.push(txt(1577.6, 867.8, "Number of gmGUS", 23.7, { rot: Math.PI / 2 }));
}

/* ---------- f ---------- */
{
  const top = 1246, bot = 1576.7;
  const g1 = addGrid([247.3, top, 421.4, bot], heatAxisX(fMeanCols), heatAxisY(fSpecies, true));
  addHeat(g1, fMeans, -1.19, 1.79, NEG, POS);
  const g2 = addGrid([432.8, top, 586.1, bot], heatAxisX(vsCols, 18.8, 7), heatAxisY(fSpecies, false));
  addHeat(g2, fLog2, -2.25, 2.92, NEG, POS);
  const g3 = addGrid([597.5, top, 707.5, bot], heatAxisX(vsCols, 18.8, 7), heatAxisY(fSpecies, false));
  addMarks(g3, fMarks, 15, 13);
  colorbar(263.8, 410, 1192.9, 1211, -1.19, 1.79, NEG, POS, [-1, 0, 1], 1224.8);
  colorbar(434.2, 580.5, 1192.9, 1211, -2.25, 2.92, NEG, POS, [-2, -1, 0, 1, 2], 1224.8);
  gfx.push(txt(325.9, 1182.8, "Cumulative GUS Abundance", 19, { sx: 0.83 }));
  gfx.push(txt(509.7, 1182.8, "log2FC", 19));
  gfx.push(txt(665.4, 1182.8, "Type", 19));
  gfx.push(tri(605, 1203.8, 13, 12, false));
  gfx.push(txt(618, 1203.8, "Down", 20, { align: "left" }));
  gfx.push(tri(680.5, 1202.7, 13, 12, true));
  gfx.push(txt(697.5, 1204.5, "Up", 20, { align: "left" }));
}

/* ---------- g ---------- */
{
  const xs = [791, 985, 1179];
  gTitles.forEach((t, p) => {
    const x0 = xs[p], x1 = x0 + 188.2;
    const g = addGrid([x0, 1214.6, x1, 1582],
      groupAxis(-0.594, 4.6, { noLine: true, italic: false, color: "#000", tickColor: "#555", tickW: 1, tickLen: 4, margin: 3 }),
      numAxis(-0.56, 16.25, [0, 5, 10, 15], { noLine: true, color: "#000", noLabel: p > 0, noTick: p > 0, margin: 4 }),
    );
    addViolins(g, gViolins[p], gBoxes[p], 4, 1, {
      silent: true, symbol: "none", animation: false, label: { show: false }, z: 1,
      lineStyle: { color: "#CFCFCF", width: 1.5, type: [7, 13] },
      data: [{ yAxis: 0 }, { yAxis: 5 }, { yAxis: 10 }, { yAxis: 15 }],
    });
    addBrackets(g, gBrackets[p], 0.38, 1, 2);
    gfx.push(box(x0, 1184.9, x1, 1214.6, "#D9D9D9"));
    gfx.push(txt((x0 + x1) / 2 + 3, 1199.7, t, 19.8, { style: "italic", fill: "#1A1A1A" }));
  });
  gfx.push(txt(754.9, 1368, "Cumulative GUS Number", 19.5, { rot: Math.PI / 2 }));
}

/* ---------- h ---------- */
{
  const top = 1250.3, bot = 1574.9;
  const g1 = addGrid([1634.8, top, 1763.7, bot], heatAxisX(GROUPS), heatAxisY(hSpecies, true, 2, 5));
  addHeat(g1, hMeans, -1.27, 1.73, NEG, POS);
  const g2 = addGrid([1777.4, top, 1889.9, bot], heatAxisX(vsCols, 18.8, 7), heatAxisY(hSpecies, false, 2));
  addHeat(g2, hLog2, -1.87, 1.46, NEG2, POS2);
  const g3 = addGrid([1902.5, top, 1990.6, bot], heatAxisX(hVsCols3, 18.8, 7), heatAxisY(hSpecies, false, 0));
  series.push({
    type: "scatter", xAxisIndex: g3, yAxisIndex: g3, silent: true, z: 5, symbol: "rect", symbolSize: 29,
    data: hValidated.map((m) => ({ value: [m[0], m[1]], itemStyle: { color: m[2] ? "#C8C8C8" : "#FFFFFF", borderColor: "#222", borderWidth: 2.5 } })),
  });
  addMarks(g3, hMarks, 16, 13);
  colorbar(1414.2, 1544, 1204.8, 1225.8, -1.27, 1.73, NEG, POS, [-1, 0, 1], 1236.8);
  colorbar(1554.8, 1639.2, 1204.8, 1225.8, -1.87, 1.46, NEG2, POS2, [-1, 0, 1], 1236.8);
  gfx.push(txt(1478.9, 1194.3, "Relative Abundance", 19, { sx: 0.88 }));
  gfx.push(txt(1598.2, 1194.3, "log2FC", 19));
  gfx.push(txt(1670.5, 1194.3, "Type", 19));
  gfx.push(tri(1660, 1214.3, 12, 11, false));
  gfx.push(txt(1674.5, 1214.3, "Down", 20, { align: "left" }));
  gfx.push(tri(1660, 1229.3, 12, 11, true));
  gfx.push(txt(1674.5, 1231.8, "Up", 20, { align: "left" }));
  gfx.push(box(1733.2, 1199.2, 1751.7, 1217.8, "#fff", "#222", 2.5));
  gfx.push(txt(1752.9, 1209.7, "Validated in Metaphlan", 18.2, { align: "left" }));
  gfx.push(box(1733.2, 1221.3, 1751.7, 1239.8, "#C8C8C8", "#222", 2.5));
  gfx.push(txt(1754.5, 1231.8, "Validated in Metaphlan and mOTUs4", 19, { align: "left", sx: 0.77 }));
}

const option: any = {
  animation: false,
  backgroundColor: "#fff",
  textStyle: { fontFamily: FONT },
  grid: grids,
  xAxis: xAxes,
  yAxis: yAxes,
  visualMap: visualMaps,
  series,
  graphic: { elements: gfx },
};

export default function App() {
  const ref = useRef<HTMLDivElement>(null);
  useEffect(() => {
    const chart = echarts.init(ref.current as HTMLDivElement, null, { renderer: "svg" });
    chart.setOption(option);
    return () => chart.dispose();
  }, []);
  return <div ref={ref} style={{ position: "absolute", left: 0, top: 0, width: 2000, height: 1709 }} />;
}
